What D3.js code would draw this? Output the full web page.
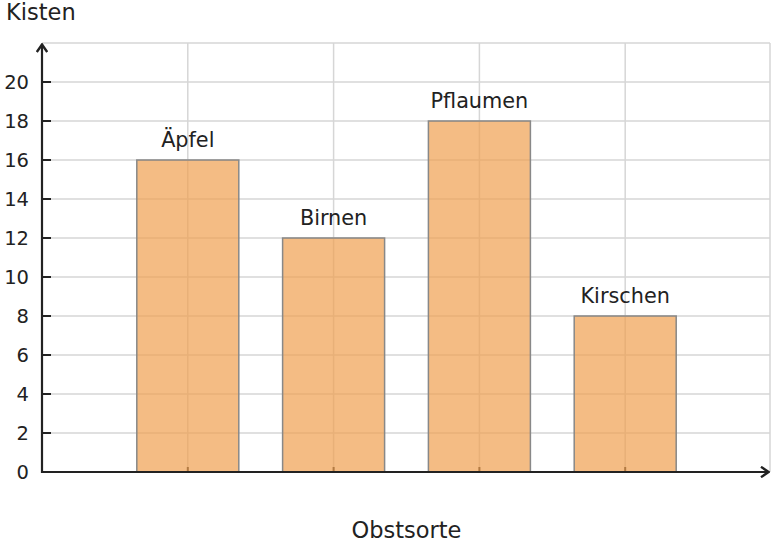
<!DOCTYPE html>
<html>
<head>
<meta charset="utf-8">
<script src="https://cdn.jsdelivr.net/npm/d3@7"></script>
<style>
  body { margin: 0; background: #fff; }
  text { font-family: "DejaVu Sans", sans-serif; fill: #222; }
</style>
</head>
<body>
<div id="vis"></div>
<script>
const categories = ["Äpfel", "Birnen", "Pflaumen", "Kirschen"];
const values = [16, 12, 18, 8];
const yTicks = [0, 2, 4, 6, 8, 10, 12, 14, 16, 18, 20];

const width = 774, height = 548;
const plotLeft = 42, plotRight = 771, plotTop = 43, plotBottom = 472;

const x = d3.scaleLinear().domain([0, categories.length + 1]).range([plotLeft, plotRight]);
const y = d3.scaleLinear().domain([0, 22]).range([plotBottom, plotTop]);
const barWidth = 102;

const svg = d3.select("#vis").append("svg")
  .attr("width", width)
  .attr("height", height);

const defs = svg.append("defs");
defs.append("marker")
  .attr("id", "arrow")
  .attr("viewBox", "0 0 12 12")
  .attr("refX", 11).attr("refY", 6)
  .attr("markerWidth", 12).attr("markerHeight", 12)
  .attr("markerUnits", "userSpaceOnUse")
  .attr("orient", "auto")
  .append("path")
    .attr("d", "M3,0.8 L10.5,6 L3,11.2")
    .attr("fill", "none")
    .attr("stroke", "#222")
    .attr("stroke-width", 2.4);

// grid
const grid = svg.append("g").attr("stroke", "#d6d6d6").attr("stroke-width", 1.5);
grid.selectAll("line.h")
  .data(yTicks.concat([22]))
  .join("line")
    .attr("class", "h")
    .attr("x1", plotLeft).attr("x2", x(5) - 1)
    .attr("y1", d => y(d)).attr("y2", d => y(d));
grid.selectAll("line.v")
  .data(d3.range(1, categories.length + 2))
  .join("line")
    .attr("class", "v")
    .attr("x1", d => d === 5 ? x(d) - 1 : x(d)).attr("x2", d => d === 5 ? x(d) - 1 : x(d))
    .attr("y1", y(22)).attr("y2", plotBottom);

// x ticks (under the bars)
svg.append("g")
  .selectAll("line")
  .data(categories)
  .join("line")
    .attr("x1", (d, i) => x(i + 1)).attr("x2", (d, i) => x(i + 1))
    .attr("y1", plotBottom).attr("y2", plotBottom - 5)
    .attr("stroke", "#222").attr("stroke-width", 2);

// bars
svg.append("g")
  .selectAll("rect")
  .data(values)
  .join("rect")
    .attr("x", (d, i) => x(i + 1) - barWidth / 2)
    .attr("y", d => y(d))
    .attr("width", barWidth)
    .attr("height", d => plotBottom - y(d))
    .attr("fill", "#f0a050")
    .attr("fill-opacity", 0.7)
    .attr("stroke", "#888")
    .attr("stroke-width", 1.5);

// bar labels
svg.append("g")
  .selectAll("text")
  .data(categories)
  .join("text")
    .attr("x", (d, i) => x(i + 1))
    .attr("y", (d, i) => y(values[i]) - 13)
    .attr("text-anchor", "middle")
    .attr("font-size", 20.8)
    .text(d => d);

// y ticks
const yt = svg.append("g");
yt.selectAll("line")
  .data(yTicks.slice(1))
  .join("line")
    .attr("x1", plotLeft).attr("x2", plotLeft + 9)
    .attr("y1", d => y(d)).attr("y2", d => y(d))
    .attr("stroke", "#222").attr("stroke-width", 2);
yt.selectAll("text")
  .data(yTicks)
  .join("text")
    .attr("x", 29)
    .attr("y", d => y(d))
    .attr("dy", "0.36em")
    .attr("text-anchor", "end")
    .attr("font-size", 19.5)
    .text(d => d);

// axes
svg.append("line")
  .attr("x1", plotLeft).attr("x2", plotRight - 2)
  .attr("y1", plotBottom).attr("y2", plotBottom)
  .attr("stroke", "#222").attr("stroke-width", 2.2)
  .attr("marker-end", "url(#arrow)");
svg.append("line")
  .attr("x1", plotLeft).attr("x2", plotLeft)
  .attr("y1", plotBottom + 1).attr("y2", plotTop + 1)
  .attr("stroke", "#222").attr("stroke-width", 2.2)
  .attr("marker-end", "url(#arrow)");

// axis titles
svg.append("text")
  .attr("x", 6).attr("y", 20)
  .attr("font-size", 22.5)
  .text("Kisten");
svg.append("text")
  .attr("x", (plotLeft + plotRight) / 2).attr("y", 538)
  .attr("text-anchor", "middle")
  .attr("font-size", 22.5)
  .text("Obstsorte");
</script>
</body>
</html>
